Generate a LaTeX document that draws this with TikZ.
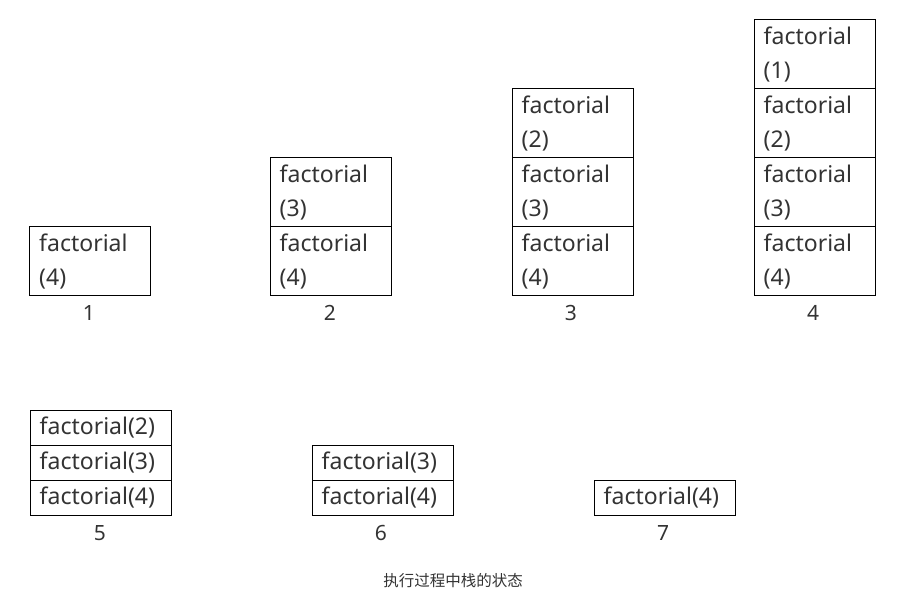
\documentclass[tikz,border=0pt]{standalone}
\usepackage{fontspec}
\setmainfont{Noto Sans}
\newfontfamily\cjk{Noto Sans CJK SC}
\definecolor{txt}{HTML}{333333}
\begin{document}
\begin{tikzpicture}[x=1pt,y=-1pt,
  cell2/.style={draw=black, line width=1pt, rectangle, minimum width=121pt, minimum height=69pt, inner sep=0pt},
  cell1/.style={draw=black, line width=1pt, rectangle, minimum width=141pt, minimum height=35pt, inner sep=0pt},
  tx/.style={text=txt, inner sep=0pt, anchor=base west, align=left, font=\fontsize{23}{34}\selectfont},
  lbl/.style={text=txt, inner sep=0pt, font=\fontsize{21}{24}\selectfont}]
\useasboundingbox (0,0) rectangle (900,600);
\newcommand{\twoline}[2]{\node[tx] (#1t) at ([xshift=10pt,yshift=-59.5pt]#1.north west) {factorial\\#2};}
\newcommand{\oneline}[2]{\node[tx] (#1t) at ([xshift=10pt,yshift=-24.5pt]#1.north west) {factorial#2};}
% stack 1
\node[cell2] (a1) at (90,260.5) {};
\twoline{a1}{(4)}
\node[lbl] (l1) at (89,313) {1};
% stack 2
\node[cell2] (b2) at (330.5,191.5) {};
\node[cell2] (b1) at (330.5,260.5) {};
\twoline{b2}{(3)}
\twoline{b1}{(4)}
\node[lbl] (l2) at (330,313) {2};
% stack 3
\node[cell2] (c3) at (572.5,122.5) {};
\node[cell2] (c2) at (572.5,191.5) {};
\node[cell2] (c1) at (572.5,260.5) {};
\twoline{c3}{(2)}
\twoline{c2}{(3)}
\twoline{c1}{(4)}
\node[lbl] (l3) at (571,313) {3};
% stack 4
\node[cell2] (d4) at (814.5,53.5) {};
\node[cell2] (d3) at (814.5,122.5) {};
\node[cell2] (d2) at (814.5,191.5) {};
\node[cell2] (d1) at (814.5,260.5) {};
\twoline{d4}{(1)}
\twoline{d3}{(2)}
\twoline{d2}{(3)}
\twoline{d1}{(4)}
\node[lbl] (l4) at (813,313) {4};
% stack 5
\node[cell1] (e3) at (100.5,427.5) {};
\node[cell1] (e2) at (100.5,462.5) {};
\node[cell1] (e1) at (100.5,497.5) {};
\oneline{e3}{(2)}
\oneline{e2}{(3)}
\oneline{e1}{(4)}
\node[lbl] (l5) at (100,533) {5};
% stack 6
\node[cell1] (f2) at (382.5,462.5) {};
\node[cell1] (f1) at (382.5,497.5) {};
\oneline{f2}{(3)}
\oneline{f1}{(4)}
\node[lbl] (l6) at (381,533) {6};
% stack 7
\node[cell1] (g1) at (664.5,497.5) {};
\oneline{g1}{(4)}
\node[lbl] (l7) at (663,533) {7};
% caption
\node[text=txt, inner sep=0pt, font=\cjk\fontsize{15.5}{18}\selectfont] (cap) at (453,581) {执行过程中栈的状态};
\end{tikzpicture}
\end{document}
